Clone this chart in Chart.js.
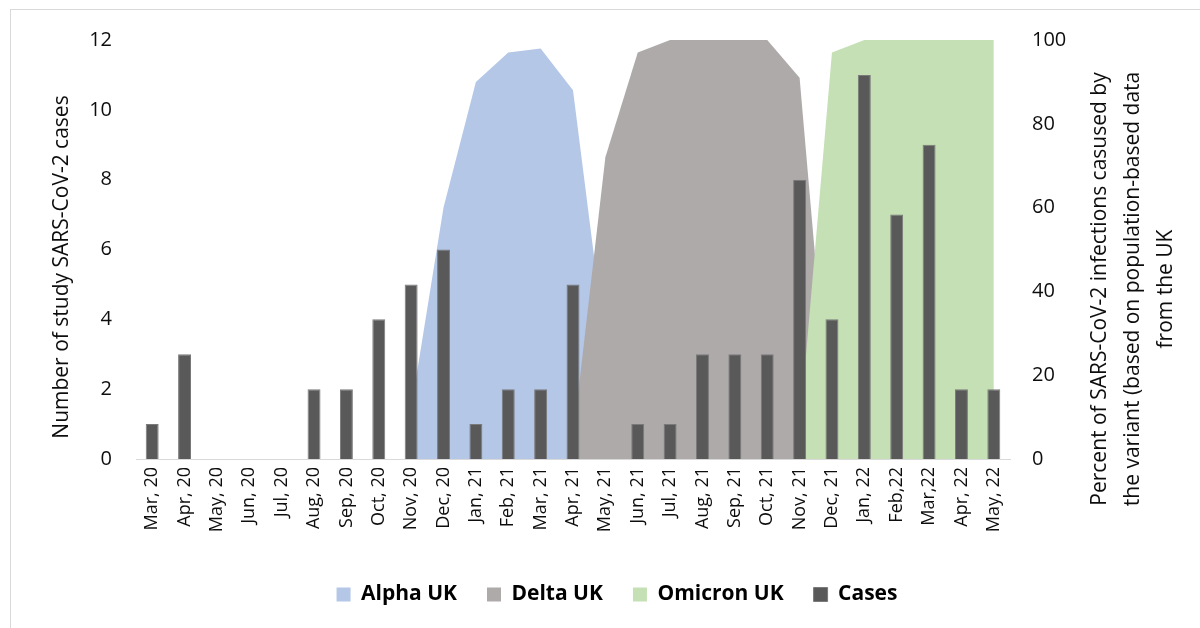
<!DOCTYPE html>
<html>
<head>
<meta charset="utf-8">
<script src="https://cdn.jsdelivr.net/npm/chart.js@4"></script>
<style>
  body { margin: 0; background: #fff; }
</style>
</head>
<body>
<canvas id="variantChart" width="1200" height="628"></canvas>
<script>
    const months = ['Mar, 20', 'Apr, 20', 'May, 20', 'Jun, 20', 'Jul, 20', 'Aug, 20', 'Sep, 20', 'Oct, 20', 'Nov, 20', 'Dec, 20',
        'Jan, 21', 'Feb, 21', 'Mar, 21', 'Apr, 21', 'May, 21', 'Jun, 21', 'Jul, 21', 'Aug, 21', 'Sep, 21', 'Oct, 21', 'Nov, 21', 'Dec, 21',
        'Jan, 22', 'Feb,22', 'Mar,22', 'Apr, 22', 'May, 22'];

    // number of study cases per month (left axis)
    const cases = [1, 3, 0, 0, 0, 2, 2, 4, 5, 6, 1, 2, 2, 5, 0, 1, 1, 3, 3, 3, 8, 4, 11, 7, 9, 2, 2];

    // percent of UK infections by variant (right axis), null = no data
    const alphaUK = [null, null, null, null, null, null, null, null, 12, 60, 90, 97, 98, 88, 27, 1,
        null, null, null, null, null, null, null, null, null, null, null];
    const deltaUK = [null, null, null, null, null, null, null, null, null, null, null, null, null, 5, 72, 97,
        100, 100, 100, 100, 91, 2, null, null, null, null, null];
    const omicronUK = [null, null, null, null, null, null, null, null, null, null, null, null, null, null, null, null,
        null, null, null, null, 7, 97, 100, 100, 100, 100, 100];

    const leftTicks = [0, 2, 4, 6, 8, 10, 12];
    const rightTicks = [0, 20, 40, 60, 80, 100];

    const fontFamily = "'Open Sans', sans-serif";
    const textColor = '#0d0d0d';

    function areaSet(label, values, color, order) {
        return {
            type: 'line',
            label: label,
            data: values,
            yAxisID: 'y1',
            backgroundColor: color,
            borderColor: 'transparent',
            borderWidth: 0,
            pointRadius: 0,
            pointHoverRadius: 0,
            tension: 0,
            fill: 'origin',
            spanGaps: false,
            order: order
        };
    }

    // frame + axis titles
    const extras = {
        id: 'extras',
        beforeDraw(chart) {
            const c = chart.ctx;
            c.save();
            c.fillStyle = '#fff';
            c.fillRect(0, 0, chart.width, chart.height);
            c.strokeStyle = '#d9d9d9';
            c.lineWidth = 1;
            c.strokeRect(10.5, 9.5, 1300, 700);
            c.restore();
        },
        afterDraw(chart) {
            const c = chart.ctx;
            c.save();
            c.fillStyle = textColor;
            c.font = '21px ' + fontFamily;
            c.textAlign = 'center';
            c.textBaseline = 'middle';

            c.translate(62, 267);
            c.rotate(-Math.PI / 2);
            c.fillText('Number of study SARS-CoV-2 cases', 0, 0);
            c.restore();

            const lines = ['Percent of SARS-CoV-2 infections casused by',
                'the variant (based on population-based data',
                'from the UK'];
            c.save();
            c.fillStyle = textColor;
            c.font = '21px ' + fontFamily;
            c.textAlign = 'center';
            c.textBaseline = 'middle';
            c.translate(1100, 289);
            c.rotate(-Math.PI / 2);
            lines.forEach((t, i) => c.fillText(t, 0, i * 33));
            c.restore();
        }
    };

    const ctx = document.getElementById('variantChart').getContext('2d');
    const variantChart = new Chart(ctx, {
        data: {
            labels: months,
            datasets: [
                areaSet('Alpha UK', alphaUK, '#B4C7E7', 3),
                areaSet('Delta UK', deltaUK, '#AEAAAA', 2),
                areaSet('Omicron UK', omicronUK, '#C5E0B4', 1),
                {
                    type: 'bar',
                    label: 'Cases',
                    data: cases,
                    yAxisID: 'y',
                    backgroundColor: '#595959',
                    borderColor: '#7a7a7a',
                    borderWidth: 1,
                    categoryPercentage: 1,
                    barPercentage: 0.4,
                    order: 0
                }
            ]
        },
        options: {
            responsive: false,
            animation: false,
            layout: {
                padding: { top: 40, left: 34, right: 0, bottom: 13 }
            },
            scales: {
                x: {
                    grid: { display: false, drawTicks: false },
                    border: { display: true, color: '#d9d9d9', width: 1 },
                    ticks: {
                        autoSkip: false,
                        maxRotation: 90,
                        minRotation: 90,
                        padding: 8,
                        color: textColor,
                        font: { family: fontFamily, size: 18 }
                    },
                    afterFit(scale) { scale.height = 95; }
                },
                y: {
                    position: 'left',
                    min: 0,
                    max: 12,
                    afterBuildTicks(scale) { scale.ticks = leftTicks.map(v => ({ value: v })); },
                    grid: { display: false, drawTicks: false },
                    border: { display: false },
                    ticks: {
                        padding: 24,
                        color: textColor,
                        font: { family: fontFamily, size: 20 }
                    },
                    afterFit(scale) { scale.width = 102; }
                },
                y1: {
                    position: 'right',
                    min: 0,
                    max: 100,
                    afterBuildTicks(scale) { scale.ticks = rightTicks.map(v => ({ value: v })); },
                    grid: { display: false, drawTicks: false },
                    border: { display: false },
                    ticks: {
                        padding: 22,
                        color: textColor,
                        font: { family: fontFamily, size: 20 }
                    },
                    afterFit(scale) { scale.width = 190; }
                }
            },
            plugins: {
                legend: {
                    position: 'bottom',
                    labels: {
                        boxWidth: 14,
                        boxHeight: 14,
                        padding: 30,
                        color: '#000',
                        font: { family: fontFamily, size: 21, weight: 'bold' },
                        sort: (a, b) => a.datasetIndex - b.datasetIndex
                    }
                },
                tooltip: { enabled: false }
            }
        },
        plugins: [extras]
    });
</script>
</body>
</html>
